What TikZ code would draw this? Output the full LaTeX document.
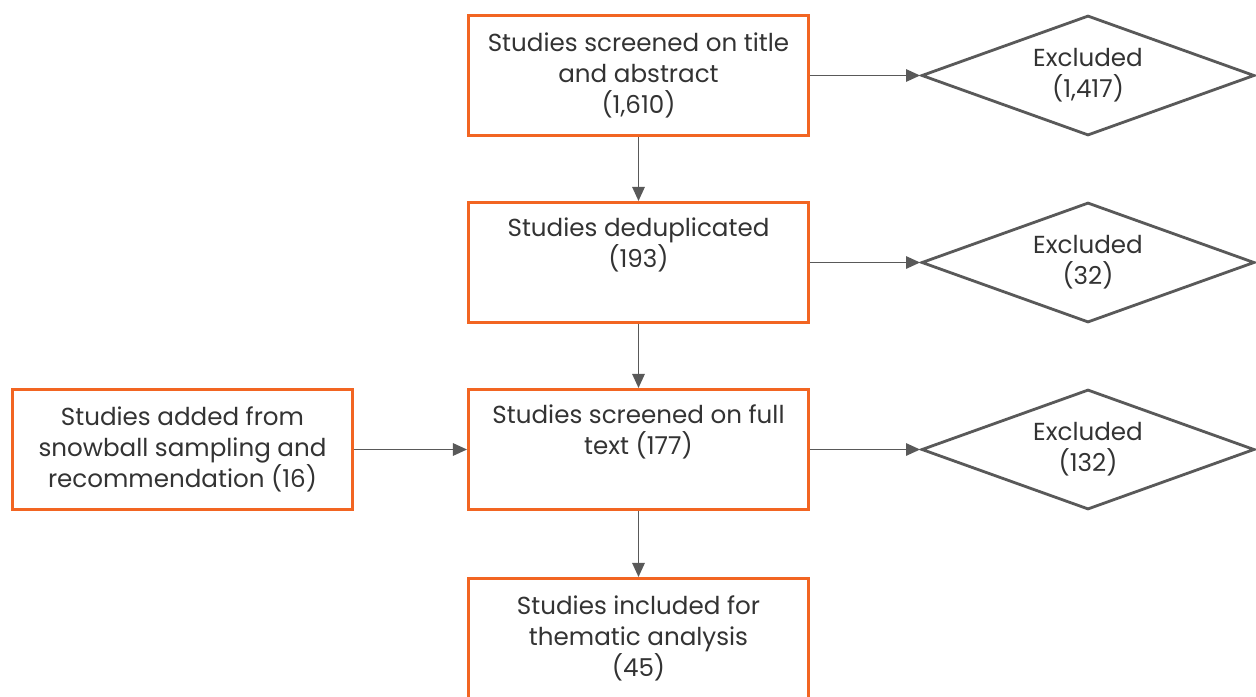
\documentclass[tikz,border=0pt]{standalone}
\usepackage{fontspec}
\setmainfont{Poppins}
\usetikzlibrary{arrows.meta,shapes.geometric}
\definecolor{boxorange}{HTML}{F26522}
\definecolor{linegray}{HTML}{595959}
\definecolor{textgray}{HTML}{333333}
\tikzset{
  stagebox/.style={draw=boxorange, line width=1.7pt, rectangle, minimum width=6.8cm,
    minimum height=2.4cm, align=center, text=textgray, inner sep=0pt},
  exclbox/.style={draw=linegray, line width=1.6pt, diamond, aspect=2.73, minimum width=6.66cm,
    minimum height=2.4cm, align=center, text=textgray, inner sep=0pt},
  flow/.style={draw=linegray, line width=1.1pt, -{Triangle[length=8pt,width=7pt]}}
}
\begin{document}
\begin{tikzpicture}[x=0.02cm,y=-0.02cm,font=\fontsize{14}{17.5}\selectfont]
        \useasboundingbox[fill=white] (0,0) rectangle (1256,696);
        \node[stagebox] (screen) at (638.5,75.5) {Studies screened on title\\and abstract\\(1,610)};
        \node[stagebox] (dedup) at (638.5,262.5) {Studies deduplicated\\(193)\\\strut};
        \node[stagebox] (full) at (638.5,449.5) {Studies screened on full\\text (177)\\\strut};
        \node[stagebox] (incl) at (638.5,638.5) {Studies included for\\thematic analysis\\(45)};
        \node[stagebox] (snow) at (182.5,449.5) {Studies added from\\snowball sampling and\\recommendation (16)};
        \node[exclbox] (ex1) at (1088,75.5) {Excluded\\(1,417)};
        \node[exclbox] (ex2) at (1088,262.5) {Excluded\\(32)};
        \node[exclbox] (ex3) at (1088,449.5) {Excluded\\(132)};

        \path[flow] (screen) -- (dedup);
        \path[flow] (dedup) -- (full);
        \path[flow] (full) -- (incl);
        \path[flow] (snow) -- (full);
        \path[flow] (screen) -- (ex1);
        \path[flow] (dedup) -- (ex2);
        \path[flow] (full) -- (ex3);
    \end{tikzpicture}
\end{document}
